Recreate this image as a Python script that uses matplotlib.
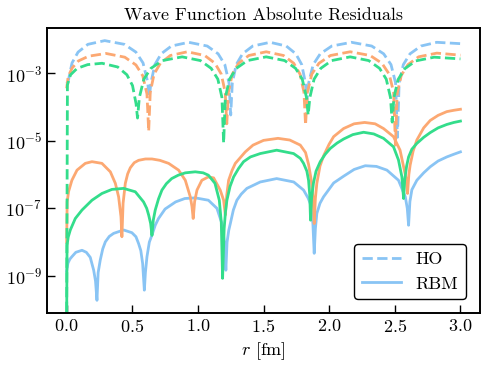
import numpy as np
import matplotlib.pyplot as plt

plt.rcParams['font.family'] = 'serif'
plt.rcParams['font.serif'] = ['cmr10']
plt.rcParams['mathtext.fontset'] = 'cm'
plt.rcParams['axes.formatter.use_mathtext'] = True

# residuals, stored as log10 of the absolute residual
# HO (dashed)
r_ho_blue = [0, 0.012, 0.041, 0.087, 0.162, 0.29, 0.44, 0.528, 0.582, 0.616,
             0.63, 0.642, 0.672, 0.72, 0.798, 0.93, 1.071, 1.154, 1.205, 1.237,
             1.25, 1.262, 1.292, 1.34, 1.418, 1.55, 1.673, 1.746, 1.791, 1.819,
             1.83, 1.844, 1.878, 1.932, 2.02, 2.17, 2.324, 2.415, 2.471, 2.506,
             2.52, 2.533, 2.565, 2.616, 2.699, 2.82, 3.0]
ho_blue = [-3.3, -3.24, -2.70, -2.38, -2.15, -2.04, -2.15, -2.38, -2.70, -3.24,
           -3.7, -3.29, -2.75, -2.43, -2.20, -2.09, -2.20, -2.43, -2.75, -3.29,
           -4.24, -3.29, -2.75, -2.43, -2.20, -2.09, -2.20, -2.43, -2.75, -3.29,
           -3.86, -3.29, -2.75, -2.43, -2.20, -2.09, -2.20, -2.43, -2.75, -3.29,
           -4.9, -3.29, -2.75, -2.43, -2.20, -2.09, -2.13]

r_ho_orange = [0, 0.012, 0.042, 0.09, 0.168, 0.30, 0.443, 0.528, 0.58, 0.612,
               0.625, 0.637, 0.666, 0.714, 0.79, 0.92, 1.052, 1.13, 1.178, 1.208,
               1.22, 1.232, 1.262, 1.31, 1.388, 1.52, 1.652, 1.73, 1.778, 1.808,
               1.82, 1.834, 1.868, 1.922, 2.01, 2.16, 2.312, 2.402, 2.457, 2.491,
               2.505, 2.518, 2.549, 2.60, 2.681, 2.82, 3.0]
ho_orange = [-3.45, -3.1, -2.85, -2.64, -2.50, -2.42, -2.53, -2.76, -3.08, -3.62,
             -4.72, -3.57, -3.03, -2.71, -2.48, -2.37, -2.48, -2.71, -3.03, -3.57,
             -4.5, -3.57, -3.03, -2.71, -2.48, -2.37, -2.48, -2.71, -3.03, -3.57,
             -4.54, -3.57, -3.03, -2.71, -2.48, -2.37, -2.48, -2.71, -3.03, -3.57,
             -5.13, -3.61, -3.07, -2.75, -2.52, -2.41, -2.47]

r_ho_green = [0, 0.006, 0.03, 0.08, 0.16, 0.27, 0.389, 0.459, 0.502, 0.529,
              0.54, 0.554, 0.588, 0.642, 0.73, 0.88, 1.019, 1.101, 1.152, 1.183,
              1.196, 1.209, 1.241, 1.293, 1.377, 1.52, 1.661, 1.744, 1.795, 1.827,
              1.84, 1.853, 1.885, 1.936, 2.019, 2.16, 2.301, 2.384, 2.435, 2.467,
              2.48, 2.493, 2.525, 2.576, 2.659, 2.80, 3.0]
ho_green = [-10.5, -3.35, -3.05, -2.86, -2.75, -2.71, -2.82, -3.05, -3.37, -3.91,
            -4.33, -3.72, -3.18, -2.86, -2.63, -2.52, -2.63, -2.86, -3.18, -3.72,
            -5.07, -3.72, -3.18, -2.86, -2.63, -2.52, -2.63, -2.86, -3.18, -3.72,
            -4.24, -3.72, -3.18, -2.86, -2.63, -2.52, -2.63, -2.86, -3.18, -3.72,
            -4.45, -3.73, -3.19, -2.87, -2.64, -2.53, -2.58]

# RBM (solid)
r_rbm_blue = [0, 0.01, 0.025, 0.04, 0.07, 0.117, 0.15, 0.18, 0.206, 0.22,
              0.231, 0.24, 0.256, 0.275, 0.295, 0.325, 0.358, 0.434, 0.497, 0.528, 0.548, 0.565, 0.579,
              0.592, 0.6, 0.612, 0.63, 0.65, 0.675, 0.70, 0.75, 0.83, 0.90, 0.98, 1.08, 1.145, 1.183, 1.203,
              1.213, 1.222, 1.235, 1.247, 1.27, 1.297, 1.33, 1.373, 1.475, 1.6, 1.73, 1.805, 1.84, 1.856, 1.876,
              1.886, 1.895, 1.906, 1.93, 1.957, 2.034, 2.11, 2.19, 2.275, 2.36, 2.44, 2.528, 2.58, 2.595,
              2.605, 2.615, 2.63, 2.668, 2.72, 2.77, 2.83, 2.896, 2.95, 3.0]
rbm_blue = [-8.85, -8.62, -8.5, -8.43, -8.3, -8.24, -8.3, -8.45, -8.83, -9.15,
            -9.72, -8.9, -8.53, -8.2, -7.99, -7.83, -7.74, -7.64, -7.72, -7.84, -8.04, -8.25, -8.63,
            -9.42, -8.9, -8.43, -8.0, -7.79, -7.5, -7.3, -7.02, -6.81, -6.71, -6.69, -6.76, -7.0, -7.45, -8.03,
            -8.83, -8.0, -7.65, -7.45, -7.05, -6.76, -6.58, -6.41, -6.22, -6.12, -6.22, -6.46, -6.7, -6.86, -7.45,
            -8.33, -7.6, -7.15, -6.85, -6.66, -6.25, -6.05, -5.85, -5.74, -5.76, -5.87, -6.17, -6.66, -7.0,
            -7.5, -6.8, -6.45, -6.17, -5.95, -5.77, -5.6, -5.48, -5.4, -5.33]

r_rbm_orange = [0, 0.004, 0.015, 0.04, 0.079, 0.142, 0.193, 0.269, 0.333, 0.371, 0.396, 0.414,
                0.421, 0.43, 0.447, 0.465, 0.485, 0.515, 0.548, 0.6, 0.65, 0.71, 0.777, 0.853, 0.904, 0.942, 0.955,
                0.964, 0.975, 0.993, 1.03, 1.08, 1.12, 1.17, 1.196,
                1.209, 1.22, 1.234, 1.26, 1.285, 1.361, 1.42, 1.5, 1.61, 1.7, 1.78, 1.82, 1.843, 1.865, 1.878,
                1.886, 1.895, 1.906, 1.93, 1.957, 2.0, 2.034, 2.11, 2.19, 2.27, 2.35, 2.414, 2.49, 2.54, 2.567, 2.585,
                2.597, 2.607, 2.617, 2.64, 2.668, 2.72, 2.77, 2.83, 2.896, 2.95, 3.0]
rbm_orange = [-8.0, -6.8, -6.5, -6.17, -5.87, -5.67, -5.62, -5.67, -5.92, -6.26, -6.66, -7.25,
              -7.84, -6.85, -6.26, -5.98, -5.8, -5.65, -5.58, -5.54, -5.54, -5.58, -5.67, -5.87, -6.17, -6.66, -6.95,
              -7.3, -6.8, -6.46, -6.17, -6.07, -6.1, -6.46, -6.76,
              -7.2, -6.6, -6.17, -5.88, -5.67, -5.33, -5.13, -4.99, -4.93, -4.98, -5.13, -5.35, -5.7, -6.2, -6.76,
              -7.45, -6.7, -6.26, -5.75, -5.45, -5.1, -4.88, -4.64, -4.5, -4.46, -4.5, -4.64, -4.88, -5.28, -5.77, -6.1,
              -6.56, -6.0, -5.72, -5.3, -4.98, -4.62, -4.4, -4.25, -4.14, -4.1, -4.07]

r_rbm_green = [0, 0.003, 0.012, 0.028, 0.066, 0.117, 0.193, 0.269, 0.345, 0.434, 0.523, 0.586, 0.61, 0.625, 0.64,
               0.65, 0.66, 0.675, 0.70, 0.726, 0.76, 0.80, 0.85, 0.904, 0.98, 1.04, 1.08, 1.13, 1.163, 1.178,
               1.188, 1.2, 1.21, 1.221, 1.245, 1.272, 1.31, 1.348, 1.4, 1.475, 1.6, 1.729, 1.78, 1.805, 1.83, 1.843, 1.852,
               1.858, 1.866, 1.88, 1.9, 1.932, 1.97, 2.008, 2.06, 2.11, 2.18, 2.262, 2.34, 2.414, 2.49, 2.528, 2.554,
               2.567, 2.575, 2.59, 2.605, 2.63, 2.668, 2.72, 2.77, 2.83, 2.896, 2.95, 3.0]
rbm_green = [-10.5, -8.1, -7.85, -7.64, -7.3, -7.05, -6.76, -6.56, -6.44, -6.41, -6.51, -6.81, -7.0, -7.2, -7.45,
             -7.8, -7.35, -7.05, -6.72, -6.46, -6.27, -6.12, -6.02, -5.95, -5.92, -5.95, -6.02, -6.26, -6.76, -7.4,
             -9.07, -7.6, -7.1, -6.76, -6.35, -6.07, -5.82, -5.62, -5.48, -5.38, -5.28, -5.38, -5.52, -5.67, -5.9, -6.17, -6.6,
             -7.35, -6.7, -6.26, -5.9, -5.62, -5.4, -5.23, -5.07, -4.95, -4.82, -4.75, -4.8, -4.93, -5.18, -5.57, -6.07,
             -6.71, -6.17, -5.75, -5.48, -5.25, -5.08, -4.9, -4.76, -4.62, -4.52, -4.46, -4.42]

colors = ['#89c4f4', '#fca872', '#33dd8b']
ho = [(r_ho_blue, ho_blue), (r_ho_orange, ho_orange), (r_ho_green, ho_green)]
rbm = [(r_rbm_blue, rbm_blue), (r_rbm_orange, rbm_orange), (r_rbm_green, rbm_green)]

fig = plt.figure(figsize=(4.84, 3.65), dpi=100)
ax = fig.add_axes([0.097, 0.142, 0.895, 0.781])

for i, c in enumerate(colors):
    r, v = ho[i]
    ax.plot(r, 10.0 ** np.array(v), color=c, ls='--', lw=2.0,
            label='HO' if i == 0 else None)
    r, v = rbm[i]
    ax.plot(r, 10.0 ** np.array(v), color=c, ls='-', lw=2.0,
            label='RBM' if i == 0 else None)

ax.set_yscale('log')
ax.set_xlim(-0.15, 3.15)
ax.set_ylim(10 ** -10.1, 10 ** -1.67)
ax.set_yticks([1e-9, 1e-7, 1e-5, 1e-3])
ax.minorticks_off()
ax.tick_params(direction='in', length=6, width=1, labelsize=13)
for s in ax.spines.values():
    s.set_linewidth(1.4)

ax.set_title('Wave Function Absolute Residuals', fontsize=13)
ax.set_xlabel('$r$ [fm]', fontsize=13)
ax.legend(loc='lower right', fontsize=13, edgecolor='black', framealpha=1,
          borderaxespad=0.8, handlelength=2.2)

fig.savefig('out.png', dpi=100)
